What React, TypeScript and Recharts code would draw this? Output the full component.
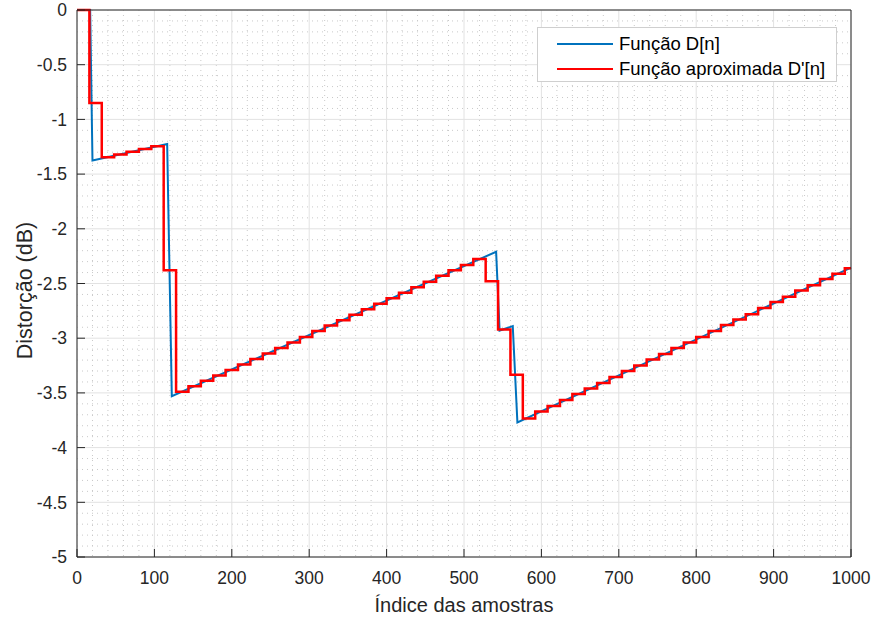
import { LineChart, Line, XAxis, YAxis, CartesianGrid, Legend } from "recharts";

const xTicks = [0, 100, 200, 300, 400, 500, 600, 700, 800, 900, 1000];
const yTicks = [0, -0.5, -1, -1.5, -2, -2.5, -3, -3.5, -4, -4.5, -5];

// D[n] - breakpoints of the continuous curve
const dIdx = [0, 17, 20, 116.5, 122.5, 541.5, 546, 563, 569, 1000];
const dVal = [0, 0, -1.375, -1.225, -3.53, -2.21, -2.93, -2.89, -3.77, -2.355];

// D'[n] - one value per block of 16 samples
const aIdx = [
  0, 16, 32, 48, 64, 80, 96, 112, 128, 144, 160, 176, 192, 208, 224, 240,
  256, 272, 288, 304, 320, 336, 352, 368, 384, 400, 416, 432, 448, 464, 480, 496,
  512, 528, 544, 560, 576, 592, 608, 624, 640, 656, 672, 688, 704, 720, 736, 752,
  768, 784, 800, 816, 832, 848, 864, 880, 896, 912, 928, 944, 960, 976, 992, 1000,
];
const aVal = [
  0, -0.85, -1.345, -1.32, -1.295, -1.27, -1.245, -2.38, -3.49, -3.44, -3.39, -3.34, -3.29, -3.24, -3.19, -3.14,
  -3.09, -3.04, -2.99, -2.935, -2.885, -2.835, -2.785, -2.735, -2.685, -2.635, -2.585, -2.535, -2.485, -2.43, -2.38, -2.33,
  -2.275, -2.48, -2.92, -3.335, -3.735, -3.67, -3.62, -3.565, -3.51, -3.46, -3.41, -3.355, -3.3, -3.25, -3.195, -3.145,
  -3.09, -3.04, -2.99, -2.935, -2.88, -2.83, -2.78, -2.725, -2.67, -2.62, -2.565, -2.515, -2.46, -2.41, -2.36, -2.36,
];

const dData = dIdx.map((n, i) => ({ n, v: dVal[i] }));
const aData = aIdx.map((n, i) => ({ n, v: aVal[i] }));

// minor grid positions (MATLAB style dotted grid)
const minorX = Array.from({ length: 51 }, (_, i) => i * 20).filter((v) => v % 100 !== 0);
const minorY = Array.from({ length: 51 }, (_, i) => i).filter((i) => i % 5 !== 0).map((i) => -i / 10);

const ink = "#262626";
const font = "'Liberation Sans', Arial, sans-serif";

function XTitle(props: any) {
  const vb = props.viewBox || { x: 77, y: 557, width: 774, height: 64 };
  return (
    <text x={vb.x + vb.width / 2} y={vb.y + 55} textAnchor="middle" fill={ink} fontSize={20}>
      Índice das amostras
    </text>
  );
}

function YTitle(props: any) {
  const vb = props.viewBox || { x: 0, y: 10, width: 77, height: 547 };
  const cx = vb.x + 32;
  const cy = vb.y + vb.height / 2 + 7;
  return (
    <text x={cx} y={cy} transform={`rotate(-90 ${cx} ${cy})`} textAnchor="middle" fill={ink} fontSize={21.5}>
      Distorção (dB)
    </text>
  );
}

function LegendBox(props: any) {
  const items = props.payload || [];
  return (
    <div
      style={{
        width: 300,
        height: 55,
        boxSizing: "border-box",
        border: "1px solid #cfcfcf",
        background: "#fff",
        paddingTop: 3,
      }}
    >
      {items.map((it: any) => (
        <div key={it.value} style={{ display: "flex", alignItems: "center", height: 25 }}>
          <div style={{ marginLeft: 19, width: 56, height: 2, background: it.color }} />
          <span style={{ marginLeft: 6, fontSize: 18.5, color: "#000", whiteSpace: "nowrap" }}>{it.value}</span>
        </div>
      ))}
    </div>
  );
}

export default function App() {
  return (
    <div style={{ position: "absolute", left: 0, top: 0, width: 874, height: 621, background: "#fff", fontFamily: font }}>
      <LineChart width={874} height={621} margin={{ top: 9, right: 22, bottom: 0, left: 0 }} style={{ fontFamily: font }}>
        <CartesianGrid horizontalValues={minorY} verticalValues={minorX} stroke="#c9c9c9" strokeDasharray="1 4" />
        <CartesianGrid horizontalValues={yTicks} verticalValues={xTicks} stroke="#e2e2e2" />
        <XAxis
          dataKey="n"
          type="number"
          domain={[0, 1000]}
          ticks={xTicks}
          interval={0}
          height={64}
          tickSize={-8}
          tickMargin={23}
          stroke={ink}
          tick={{ fill: ink, fontSize: 17.5 }}
          label={<XTitle />}
        />
        <XAxis
          xAxisId="top"
          orientation="top"
          type="number"
          domain={[0, 1000]}
          ticks={xTicks}
          interval={0}
          height={1}
          tickSize={-8}
          tick={false}
          stroke={ink}
        />
        <YAxis
          type="number"
          domain={[-5, 0]}
          ticks={yTicks}
          interval={0}
          width={77}
          tickSize={-8}
          tickMargin={18}
          stroke={ink}
          tick={{ fill: ink, fontSize: 17.5 }}
          label={<YTitle />}
        />
        <YAxis
          yAxisId="right"
          orientation="right"
          type="number"
          domain={[-5, 0]}
          ticks={yTicks}
          interval={0}
          width={1}
          tickSize={-8}
          tick={false}
          stroke={ink}
        />
        <Legend
          layout="vertical"
          align="center"
          verticalAlign="middle"
          content={<LegendBox />}
          wrapperStyle={{ left: 537, top: 27, width: 300 }}
        />
        <Line
          data={dData}
          dataKey="v"
          name="Função D[n]"
          type="linear"
          stroke="#0072BD"
          strokeWidth={2}
          dot={false}
          isAnimationActive={false}
        />
        <Line
          data={aData}
          dataKey="v"
          name="Função aproximada D'[n]"
          type="stepAfter"
          stroke="#FF0000"
          strokeWidth={2.5}
          dot={false}
          isAnimationActive={false}
        />
      </LineChart>
    </div>
  );
}
